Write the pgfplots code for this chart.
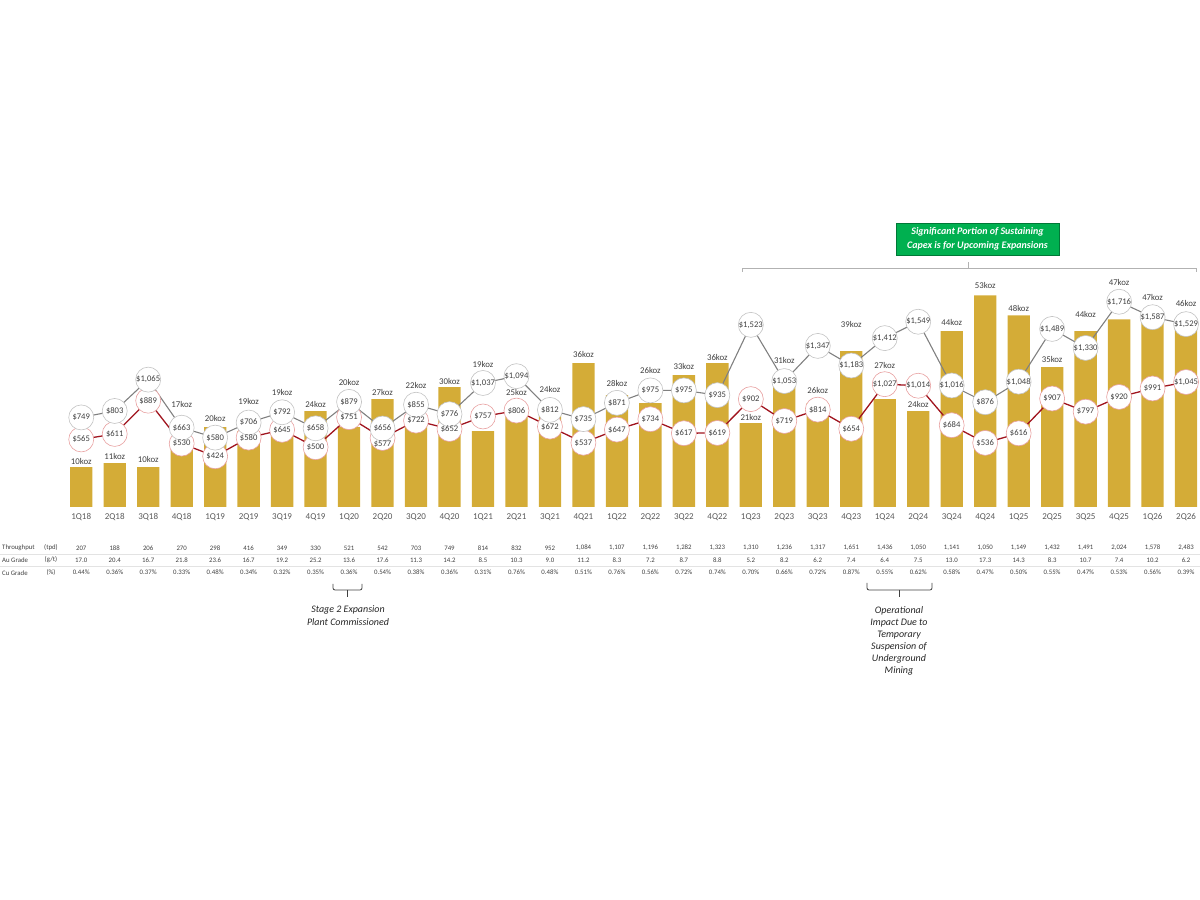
\documentclass[border=0pt]{standalone}
\usepackage{pgfplots}
\pgfplotsset{compat=1.18}
\usepackage{pgfplotstable}
\usepackage{fontspec}
\setmainfont{Carlito}
\definecolor{gold}{RGB}{212,172,55}
\definecolor{labeltxt}{RGB}{64,64,64}
\definecolor{cattxt}{RGB}{89,89,89}
\definecolor{cashred}{RGB}{160,20,30}
\definecolor{cashring}{RGB}{232,160,160}
\definecolor{aiscgrey}{RGB}{128,128,128}
\definecolor{aiscring}{RGB}{195,195,195}
\definecolor{boxgreen}{RGB}{0,176,80}
\definecolor{boxedge}{RGB}{0,120,55}
\newcommand{\tabfont}{\fontsize{6.8bp}{7.8bp}\selectfont}
\newcommand{\circfont}{\fontsize{8.6bp}{10bp}\selectfont}
\pgfplotstableread{
i q koz ly aisc cash cdy tp au cu
0 1Q18 10 461 749 565 0 207 17.0 0.44
1 2Q18 11 456.7 803 611 0 188 20.4 0.36
2 3Q18 10 459.3 1065 889 0 206 16.7 0.37
3 4Q18 17 404.3 663 530 0 270 21.8 0.33
4 1Q19 20 418.3 580 424 0 298 23.6 0.48
5 2Q19 19 401 706 580 0 416 16.7 0.34
6 3Q19 19 392.7 792 645 0 349 19.2 0.32
7 4Q19 24 404.3 658 500 0 330 25.2 0.35
8 1Q20 20 382.7 879 751 0 521 13.6 0.36
9 2Q20 27 392.3 656 577 6 542 17.6 0.54
10 3Q20 22 385 855 722 0 703 11.3 0.38
11 4Q20 30 381.7 776 652 0 749 14.2 0.36
12 1Q21 19 364 1037 757 0 814 8.5 0.31
13 2Q21 25 392.7 1094 806 0 832 10.3 0.76
14 3Q21 24 389 812 672 0 952 9.0 0.48
15 4Q21 36 355 735 537 0 1084 11.2 0.51
16 1Q22 28 383.3 871 647 0 1107 8.3 0.76
17 2Q22 26 371 975 734 0 1196 7.2 0.56
18 3Q22 33 366.7 975 617 0 1282 8.7 0.72
19 4Q22 36 357.3 935 619 0 1323 8.8 0.74
20 1Q23 21 417.7 1523 902 0 1310 5.2 0.70
21 2Q23 31 360.7 1053 719 0 1236 8.2 0.66
22 3Q23 26 391 1347 814 0 1317 6.2 0.72
23 4Q23 39 324.3 1183 654 0 1651 7.4 0.87
24 1Q24 27 365 1412 1027 0 1436 6.4 0.55
25 2Q24 24 404.3 1549 1014 0 1050 7.5 0.62
26 3Q24 44 322.3 1016 684 0 1141 13.0 0.58
27 4Q24 53 286 876 536 0 1050 17.3 0.47
28 1Q25 48 308.3 1048 616 0 1149 14.3 0.50
29 2Q25 35 360 1489 907 0 1432 8.3 0.55
30 3Q25 44 314.3 1330 797 0 1491 10.7 0.47
31 4Q25 47 282.3 1716 920 0 2024 7.4 0.53
32 1Q26 47 297.7 1587 991 0 1578 10.2 0.56
33 2Q26 46 304 1529 1045 0 2483 6.2 0.39
}\data
\begin{document}
\begin{tikzpicture}[x=1bp,y=1bp]
\useasboundingbox (0,0) rectangle (1200,900);
% table separators and row labels
\draw[gray!22, line width=0.5bp] (0,345.5) -- (1200,345.5);
\draw[gray!22, line width=0.5bp] (0,333.5) -- (1200,333.5);
\begin{scope}[font=\tabfont, text=labeltxt]
\node[anchor=west, inner sep=0] at (2,352) {Throughput};
\node[anchor=west, inner sep=0] at (2,340) {Au Grade};
\node[anchor=west, inner sep=0] at (2,327.3) {Cu Grade};
\node[inner sep=0] at (51,352) {(tpd)};
\node[inner sep=0] at (51,340) {(g/t)};
\node[inner sep=0] at (51,327.3) {(\%)};
\end{scope}
\begin{axis}[
  at={(64.5bp,393bp)}, anchor=south west, scale only axis,
  width=1138.3bp, height=279.6bp,
  xmin=-0.5, xmax=33.5, ymin=0, ymax=70, clip=false,
  axis line style={draw=none}, ymajorticks=false,
  xtick={0,...,33}, xticklabels from table={\data}{q},
  major tick length=0pt,
  xticklabel style={anchor=center, yshift=-9.7bp, font=\fontsize{9bp}{10bp}\selectfont, text=cattxt},
  /pgf/number format/assume math mode=true,
  /pgf/number format/1000 sep={,},
]
\addplot[ybar, bar width=0.666, fill=gold, draw=none] table[x=i,y=koz]{\data};
\addplot[draw=none, mark=none, nodes near coords={\pgfmathprintnumber[fixed,precision=0]{\pgfplotspointmeta}koz},
  point meta=\thisrow{koz},
  every node near coord/.append style={anchor=center, inner sep=0pt, font=\fontsize{8.8bp}{10bp}\selectfont, text=labeltxt}]
  table[x=i, y expr={(507-\thisrow{ly})/3.994}]{\data};
\addplot[draw=none, mark=none, nodes near coords={\pgfmathprintnumber[fixed,precision=0]{\pgfplotspointmeta}},
  point meta=\thisrow{tp},
  every node near coord/.append style={anchor=center, inner sep=0pt, font=\tabfont, text=labeltxt}]
  table[x=i, y expr=-10.27]{\data};
\addplot[draw=none, mark=none, nodes near coords={\pgfmathprintnumber[fixed,fixed zerofill,precision=1]{\pgfplotspointmeta}},
  point meta=\thisrow{au},
  every node near coord/.append style={anchor=center, inner sep=0pt, font=\tabfont, text=labeltxt}]
  table[x=i, y expr=-13.27]{\data};
\addplot[draw=none, mark=none, nodes near coords={\pgfmathprintnumber[fixed,fixed zerofill,precision=2]{\pgfplotspointmeta}\%},
  point meta=\thisrow{cu},
  every node near coord/.append style={anchor=center, inner sep=0pt, font=\tabfont, text=labeltxt}]
  table[x=i, y expr=-16.45]{\data};
\end{axis}
\begin{axis}[
  at={(64.5bp,393bp)}, anchor=south west, scale only axis,
  width=1138.3bp, height=279.6bp,
  xmin=-0.5, xmax=33.5, ymin=0, ymax=2338, clip=false, hide axis,
  /pgf/number format/assume math mode=true,
  /pgf/number format/1000 sep={,},
]
\addplot[cashred, line width=1.3bp, mark=*, mark size=12.5bp,
  mark options={fill=white, draw=cashring, line width=0.6bp}]
  table[x=i,y=cash]{\data};
\addplot[aiscgrey, line width=1.1bp, mark=*, mark size=12.5bp,
  mark options={fill=white, draw=aiscring, line width=0.6bp},
  nodes near coords={\$\pgfmathprintnumber[fixed,precision=0]{\pgfplotspointmeta}}, point meta=y,
  every node near coord/.append style={anchor=center, inner sep=0pt, font=\circfont, text=labeltxt}]
  table[x=i,y=aisc]{\data};
\addplot[draw=none, mark=none,
  nodes near coords={\$\pgfmathprintnumber[fixed,precision=0]{\pgfplotspointmeta}}, point meta=\thisrow{cash},
  every node near coord/.append style={anchor=center, inner sep=0pt, font=\circfont, text=labeltxt}]
  table[x=i, y expr={\thisrow{cash}-\thisrow{cdy}/0.1196}]{\data};
\end{axis}
% top bracket and green box
\draw[gray!60, line width=0.8bp] (742,628) -- (742,632) -- (1196,632) -- (1196,628);
\draw[gray!60, line width=0.8bp] (968,632) -- (968,638);
\node[draw=boxedge, fill=boxgreen, line width=0.8bp, minimum width=163bp, minimum height=32bp, inner sep=0pt,
  align=center, text=white, font=\fontsize{10bp}{13.4bp}\selectfont\bfseries\itshape] at (977.5,661)
  {Significant Portion of Sustaining\\Capex is for Upcoming Expansions};
% bottom braces
\draw[black!75, line width=0.8bp, rounded corners=2bp] (333,316) -- (333,310) -- (362,310) -- (362,316);
\draw[black!75, line width=0.8bp] (347.5,310) -- (347.5,303);
\node[align=center, text=black!85, font=\fontsize{10bp}{12.3bp}\selectfont\itshape] at (348,284.3)
  {Stage 2 Expansion\\Plant Commissioned};
\draw[black!75, line width=0.8bp, rounded corners=2bp] (867,317) -- (867,310) -- (932,310) -- (932,317);
\draw[black!75, line width=0.8bp] (899,310) -- (899,303);
\node[align=center, text=black!85, font=\fontsize{10bp}{11.95bp}\selectfont\itshape] at (899,259.1)
  {Operational\\Impact Due to\\Temporary\\Suspension of\\Underground\\Mining};
\end{tikzpicture}
\end{document}
